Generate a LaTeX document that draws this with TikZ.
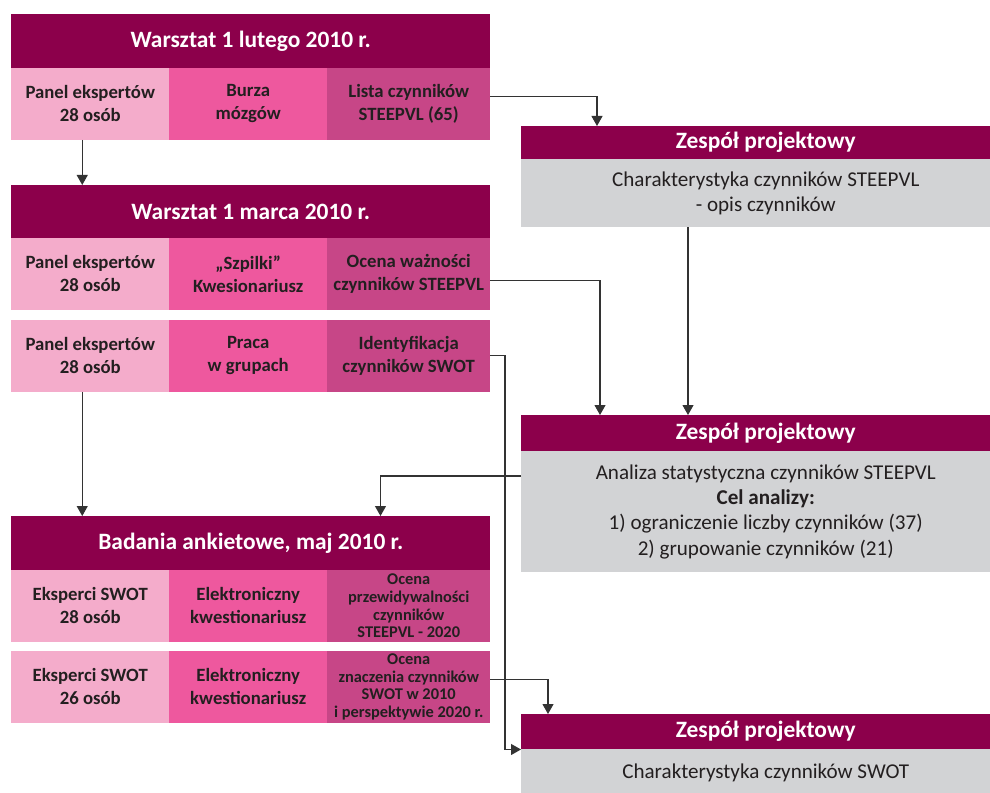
\documentclass[tikz,border=0pt]{standalone}
\usepackage{fontspec}
\setmainfont{Carlito}
\usepackage{xcolor}
\usepackage{tikz}
\usetikzlibrary{arrows.meta}

\definecolor{maroon}{RGB}{140,0,75}
\definecolor{pinkA}{RGB}{244,172,203}
\definecolor{pinkB}{RGB}{238,88,158}
\definecolor{pinkC}{RGB}{199,70,135}
\definecolor{boxgray}{RGB}{210,211,213}
\definecolor{ink}{RGB}{35,31,32}
\definecolor{wire}{RGB}{51,51,51}

\begin{document}
\begin{tikzpicture}[x=0.03cm,y=-0.03cm,
  hdr/.style={fill=maroon,text=white,anchor=north west,inner sep=0pt,
    font=\fontsize{20}{24}\selectfont\bfseries,minimum width=14.37cm,minimum height=1.61cm},
  team/.style={hdr,minimum width=14.67cm},
  cell/.style={anchor=north west,inner sep=0pt,text=ink,align=center,
    font=\fontsize{16}{19.6}\selectfont\bfseries,minimum height=2.14cm},
  who/.style={cell,fill=pinkA,minimum width=4.74cm},
  how/.style={cell,fill=pinkB,minimum width=4.74cm},
  what/.style={cell,fill=pinkC,minimum width=4.89cm},
  whatsm/.style={what,font=\fontsize{14}{15}\selectfont\bfseries},
  note/.style={fill=boxgray,text=ink,anchor=north west,inner sep=0pt,align=center,
    font=\fontsize{18}{21.5}\selectfont,minimum width=14.67cm},
  wire/.style={draw=wire,line width=0.9pt,-{Triangle[length=3mm,width=3.3mm]}}]
\useasboundingbox (0,0) rectangle (990,793);

% warsztat 1
\node[hdr] (w1) at (11,14) {Warsztat 1 lutego 2010 r.};
\node[who] (pa1) at (11,68) {Panel ekspertów\\28 osób};
\node[how] (bm1) at (169,68) {Burza\\mózgów};
\node[what] (la1) at (327,68) {Lista czynników\\STEEPVL (65)};

% warsztat 2
\node[hdr] (w2) at (11,185) {Warsztat 1 marca 2010 r.};
\node[who] (pa2) at (11,238) {Panel ekspertów\\28 osób};
\node[how] (sz2) at (169,238) {„Szpilki”\\Kwesionariusz};
\node[what] (oc2) at (327,238) {Ocena ważności\\czynników STEEPVL};
\node[who] (pb2) at (11,320) {Panel ekspertów\\28 osób};
\node[how] (pg2) at (169,320) {Praca\\w grupach};
\node[what] (id2) at (327,320) {Identyfikacja\\czynników SWOT};

% badania
\node[hdr] (b3) at (11,516) {Badania ankietowe, maj 2010 r.};
\node[who] (ea3) at (11,570) {Eksperci SWOT\\28 osób};
\node[how] (ka3) at (169,570) {Elektroniczny\\kwestionariusz};
\node[whatsm] (op3) at (327,570) {Ocena\\przewidywalności\\czynników\\STEEPVL - 2020};
\node[who] (eb3) at (11,651) {Eksperci SWOT\\26 osób};
\node[how] (kb3) at (169,651) {Elektroniczny\\kwestionariusz};
\node[whatsm] (oz3) at (327,651) {Ocena\\znaczenia czynników\\SWOT w 2010\\i perspektywie 2020 r.};

% zespol projektowy
\node[team,minimum height=0.99cm] (za) at (521,126) {Zespół projektowy};
\node[note,minimum height=2.04cm] (ga) at (521,159) {Charakterystyka czynników STEEPVL\\- opis czynników};
\node[team,minimum height=1.08cm] (zb) at (521,415) {Zespół projektowy};
\node[note,minimum height=3.63cm] (gb) at (521,451) {Analiza statystyczna czynników STEEPVL\\\textbf{Cel analizy:}\\1) ograniczenie liczby czynników (37)\\2) grupowanie czynników (21)};
\node[team,minimum height=1.05cm] (zc) at (521,714) {Zespół projektowy};
\node[note,minimum height=1.44cm] (gc) at (521,749) {Charakterystyka czynników SWOT};

% connectors
\draw[wire] ([xshift=-0.24cm]pa1.south) -- ([xshift=-0.24cm]pa1.south |- w2.north);
\draw[wire] ([xshift=-0.24cm]pb2.south) -- ([xshift=-0.24cm]pb2.south |- b3.north);
\draw[wire] ([yshift=0.23cm]la1.east) -| ([xshift=2.28cm]za.north west);
\draw[wire] ([yshift=-0.19cm]oc2.east) -| ([xshift=2.37cm]zb.north west);
\draw[wire] ([xshift=5.01cm]ga.south west) -- ([xshift=5.01cm]ga.south west |- zb.north);
\draw[wire] ([yshift=-0.75cm]gb.north west) -| ([xshift=-3.3cm]b3.north east);
\draw[wire] (id2.east) -| ([xshift=-0.48cm]zc.south west) -- (zc.south west);
\draw[wire] ([yshift=0.23cm]oz3.east) -| ([xshift=0.81cm]zc.north west);
\end{tikzpicture}
\end{document}
